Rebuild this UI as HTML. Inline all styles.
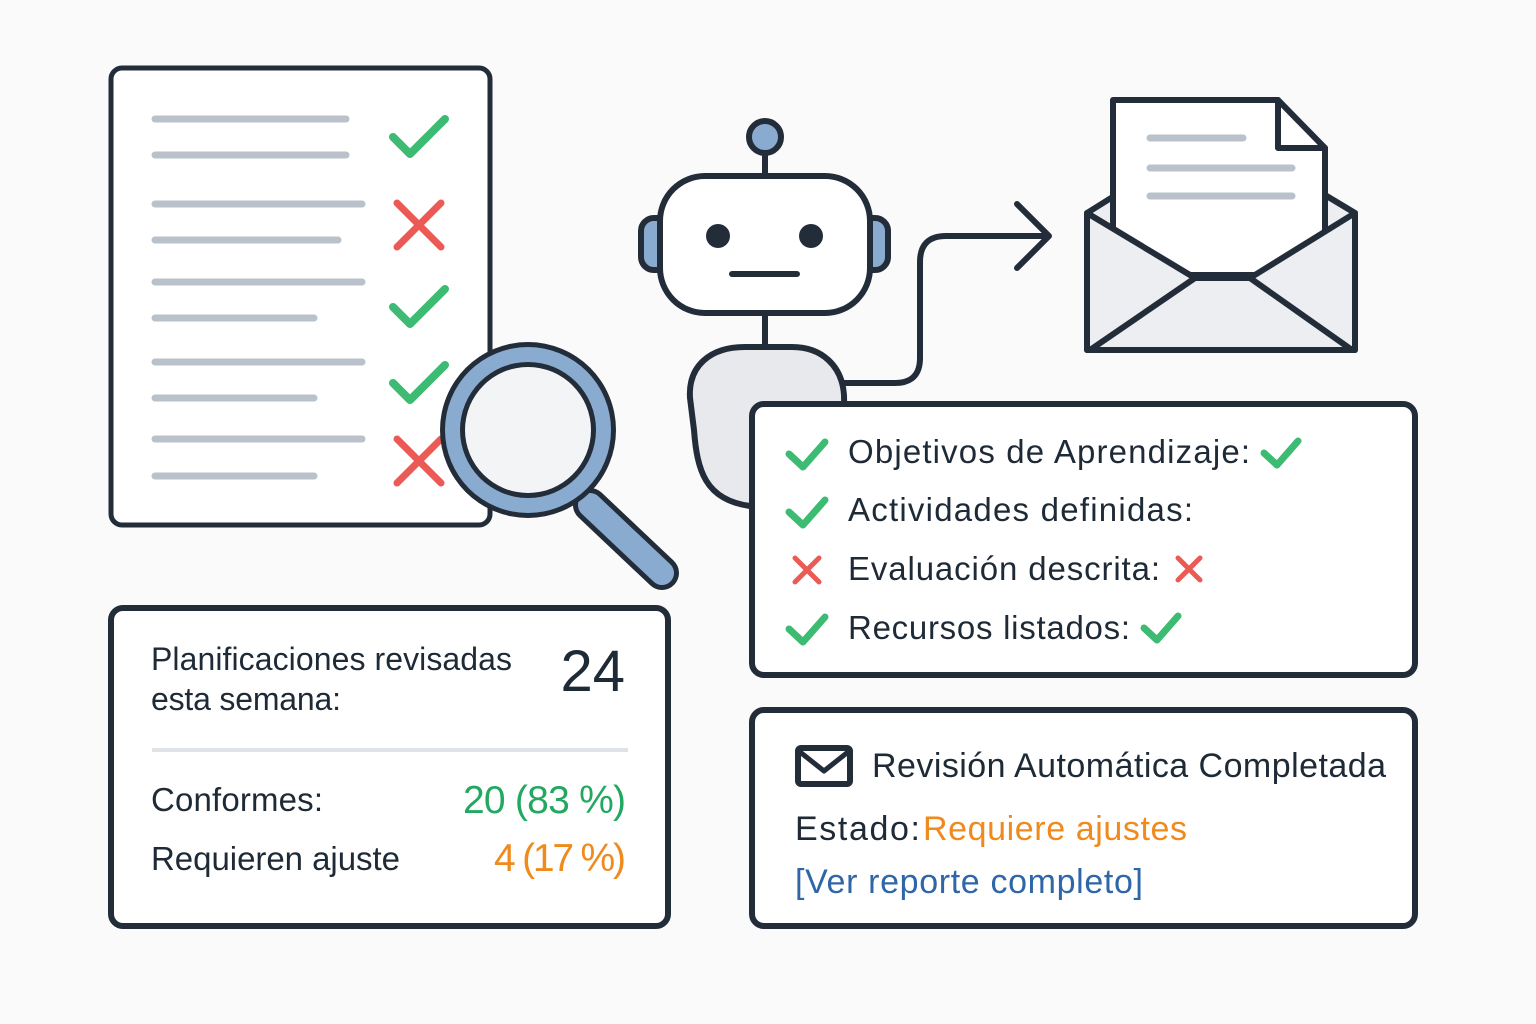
<!DOCTYPE html>
<html><head><meta charset="utf-8"><style>
html,body{margin:0;padding:0;background:#fafafa;}
svg{display:block;}
text{font-family:"Liberation Sans",sans-serif;fill:#1f2a37;}
</style></head><body>
<svg width="1536" height="1024" viewBox="0 0 1536 1024" xmlns="http://www.w3.org/2000/svg">
<rect width="1536" height="1024" fill="#fafafa"/>
<g stroke-linecap="round" stroke-linejoin="round">
<rect x="111" y="68" width="379" height="457" rx="11" fill="#fff" stroke="#232d3a" stroke-width="5"/>
<g stroke="#b9c1ca" stroke-width="7">
<line x1="155" y1="119" x2="346" y2="119"/><line x1="155" y1="155" x2="346" y2="155"/>
<line x1="155" y1="204" x2="362" y2="204"/><line x1="155" y1="240" x2="338" y2="240"/>
<line x1="155" y1="282" x2="362" y2="282"/><line x1="155" y1="318" x2="314" y2="318"/>
<line x1="155" y1="362" x2="362" y2="362"/><line x1="155" y1="398" x2="314" y2="398"/>
<line x1="155" y1="439" x2="362" y2="439"/><line x1="155" y1="476" x2="314" y2="476"/>
</g>
<g fill="none" stroke="#3dbb72" stroke-width="8">
<path d="M393 137 L410 154 L445 119"/><path d="M393 307 L410 324 L445 289"/><path d="M393 383 L410 400 L445 365"/>
</g>
<g fill="none" stroke="#ec5a55" stroke-width="7">
<path d="M397 203 L441 247 M441 203 L397 247"/><path d="M397 439 L441 483 M441 439 L397 483"/>
</g>
<path d="M590 505 L662 573" stroke="#232d3a" stroke-width="34"/>
<path d="M590 505 L662 573" stroke="#8aabd0" stroke-width="24"/>
<circle cx="528" cy="430" r="88" fill="#232d3a"/>
<circle cx="528" cy="430" r="83" fill="#8aabd0"/>
<circle cx="528" cy="430" r="68" fill="#232d3a"/>
<circle cx="528" cy="430" r="63" fill="#f3f4f6"/>
<path d="M843 383 L895 383 Q920 383 920 358 L920 262 Q920 236 946 236 L1048 236" fill="none" stroke="#232d3a" stroke-width="6"/>
<path d="M1017 204 L1049 236 L1017 268" fill="none" stroke="#232d3a" stroke-width="6"/>
<path d="M750 506 C705 500 697 470 694 430 L690 398 C688 366 710 347 745 347 L792 347 C822 347 842 366 844 395 L846 506 Z" fill="#e8e9ec" stroke="#232d3a" stroke-width="6"/>
<line x1="765" y1="150" x2="765" y2="178" stroke="#232d3a" stroke-width="6"/>
<line x1="765" y1="313" x2="765" y2="347" stroke="#232d3a" stroke-width="6"/>
<circle cx="765" cy="137" r="16" fill="#8aabd0" stroke="#232d3a" stroke-width="6"/>
<rect x="641" y="218" width="30" height="52" rx="13" fill="#8aabd0" stroke="#232d3a" stroke-width="6"/>
<rect x="858" y="218" width="30" height="52" rx="13" fill="#8aabd0" stroke="#232d3a" stroke-width="6"/>
<rect x="660" y="176" width="210" height="137" rx="45" fill="#fff" stroke="#232d3a" stroke-width="6"/>
<circle cx="718" cy="236" r="12" fill="#232d3a"/><circle cx="811" cy="236" r="12" fill="#232d3a"/>
<line x1="732" y1="274" x2="797" y2="274" stroke="#232d3a" stroke-width="6"/>
<path d="M1087 213 L1135 183 L1305 183 L1355 213 L1355 350 L1087 350 Z" fill="#eceef1" stroke="#232d3a" stroke-width="6"/>
<path d="M1113 100 L1278 100 L1325 148 L1325 275 L1113 275 Z" fill="#fff" stroke="#232d3a" stroke-width="6"/>
<path d="M1278 100 L1278 148 L1325 148" fill="none" stroke="#232d3a" stroke-width="6"/>
<g stroke="#b9c1ca" stroke-width="7"><line x1="1150" y1="138" x2="1243" y2="138"/><line x1="1150" y1="168" x2="1292" y2="168"/><line x1="1150" y1="196" x2="1292" y2="196"/></g>
<path d="M1087 213 L1195 278 L1250 278 L1355 213 L1355 350 L1087 350 Z" fill="#eceef1" stroke="#232d3a" stroke-width="6"/>
<path d="M1090 350 L1195 278 M1250 278 L1352 350" stroke="#232d3a" stroke-width="6"/>
<rect x="752" y="404" width="663" height="271" rx="12" fill="#fff" stroke="#232d3a" stroke-width="6"/>
<g fill="none" stroke="#3dbb72" stroke-width="7">
<path d="M789 454 L803 467 L825 442"/><path d="M789 512 L803 525 L825 500"/><path d="M789 629 L803 642 L825 617"/>
<path d="M1264 453 L1277 465 L1298 441"/><path d="M1144 628 L1157 640 L1178 616"/>
</g>
<g fill="none" stroke="#ec5a55" stroke-width="5"><path d="M795 558 L819 582 M819 558 L795 582"/><path d="M1178 558 L1200 580 M1200 558 L1178 580"/></g>
</g>
<text x="848" y="463" font-size="33" textLength="402">Objetivos de Aprendizaje:</text>
<text x="848" y="521" font-size="33" textLength="345">Actividades definidas:</text>
<text x="848" y="580" font-size="33" textLength="312">Evaluación descrita:</text>
<text x="848" y="639" font-size="33" textLength="282">Recursos listados:</text>
<rect x="111" y="608" width="557" height="318" rx="12" fill="#fff" stroke="#232d3a" stroke-width="6"/>
<text x="151" y="670" font-size="32" textLength="361">Planificaciones revisadas</text>
<text x="151" y="710" font-size="32" textLength="190">esta semana:</text>
<text x="625" y="691" font-size="58" text-anchor="end">24</text>
<line x1="152" y1="750" x2="628" y2="750" stroke="#dfe3e8" stroke-width="4"/>
<text x="151" y="811" font-size="33" textLength="172">Conformes:</text>
<text x="463" y="813" font-size="39" textLength="163" style="fill:#23a861">20 (83 %)</text>
<text x="151" y="870" font-size="33" textLength="249">Requieren ajuste</text>
<text x="494" y="871" font-size="39" textLength="132" style="fill:#f08a1c">4 (17 %)</text>
<rect x="752" y="710" width="663" height="216" rx="12" fill="#fff" stroke="#232d3a" stroke-width="6"/>
<rect x="798" y="748" width="52" height="36" rx="3" fill="#fff" stroke="#232d3a" stroke-width="6"/>
<path d="M800 752 L824 771 L848 752" fill="none" stroke="#232d3a" stroke-width="5" stroke-linejoin="round"/>
<text x="872" y="777" font-size="34" textLength="514">Revisión Automática Completada</text>
<text x="795" y="840" font-size="34" textLength="125">Estado:</text>
<text x="923" y="840" font-size="34" textLength="264" style="fill:#f08a1c">Requiere ajustes</text>
<text x="795" y="893" font-size="34" textLength="348" style="fill:#2f66a8">[Ver reporte completo]</text>
</svg>
</body></html>
